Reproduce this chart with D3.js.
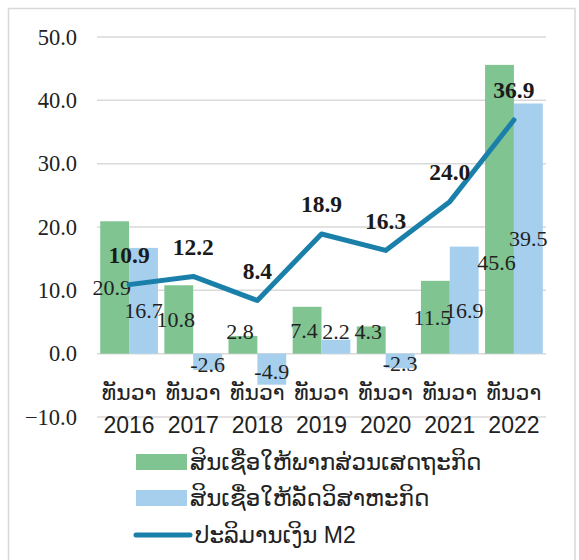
<!DOCTYPE html>
<html>
<head>
<meta charset="utf-8">
<script src="https://cdn.jsdelivr.net/npm/d3@7"></script>
<style>
  body { margin: 0; background: #fff; }
  svg { display: block; }
</style>
</head>
<body>
<div id="chart"></div>
<script>
// data
const years = ["2016", "2017", "2018", "2019", "2020", "2021", "2022"]
const monthLabel = "ທັນວາ"
const privateCredit = [20.9, 10.8, 2.8, 7.4, 4.3, 11.5, 45.6]
const soeCredit = [16.7, -2.6, -4.9, 2.2, -2.3, 16.9, 39.5]
const m2 = [10.9, 12.2, 8.4, 18.9, 16.3, 24.0, 36.9]
const yTicks = [-10, 0, 10, 20, 30, 40, 50]
const seriesNames = ["ສິນເຊື່ອໃຫ້ພາກສ່ວນເສດຖະກິດ", "ສິນເຊື່ອໃຫ້ລັດວິສາຫະກິດ", "ປະລິມານເງິນ M2"]

const width = 579, height = 560
const green = "#80c492", lightBlue = "#a6cfee", lineBlue = "#1a80a9"
const serif = "'Liberation Serif', 'Times New Roman', serif"
const sans = "'Liberation Sans', Arial, 'DejaVu Sans', sans-serif"

const svg = d3.select("#chart").append("svg").attr("width", width).attr("height", height)

// frame
svg.append("rect").attr("x", 8.5).attr("y", 8.5).attr("width", 566.5).attr("height", 600)
  .attr("fill", "none").attr("stroke", "#d9d9d9").attr("stroke-width", 1.5)

const y = d3.scaleLinear().domain([-10, 50]).range([417, 37])
const x0 = d3.scaleBand().domain(years).range([97, 546]).paddingInner(0.1).paddingOuter(0.05)
const x1 = d3.scaleBand().domain([0, 1]).range([0, x0.bandwidth()])

//BEGIN: GRID + Y AXIS
const yAxis = d3.axisLeft(y).tickValues(yTicks).tickFormat(d3.format(".1f")).tickSize(0).tickPadding(0)
const ga = svg.append("g").attr("transform", "translate(77,0)").call(yAxis)
ga.select(".domain").remove()
ga.selectAll("text").attr("font-family", serif).attr("font-size", 22.5).attr("fill", "#222")

svg.append("g").selectAll("line").data(yTicks).join("line")
  .attr("x1", 97).attr("x2", 546)
  .attr("y1", d => y(d)).attr("y2", d => y(d))
  .attr("stroke", "#d9d9d9").attr("stroke-width", 1.5)
//END: GRID

//BEGIN: BARS
const bars = years.map((yr, i) => [
  { yr, s: 0, v: privateCredit[i] },
  { yr, s: 1, v: soeCredit[i] }
])
const fills = [green, lightBlue]

const groups = svg.append("g").selectAll("g").data(bars).join("g")
  .attr("transform", d => `translate(${x0(d[0].yr)},0)`)

groups.selectAll("rect").data(d => d).join("rect")
  .attr("x", d => x1(d.s))
  .attr("width", x1.bandwidth())
  .attr("y", d => y(Math.max(0, d.v)))
  .attr("height", d => Math.abs(y(d.v) - y(0)))
  .attr("fill", d => fills[d.s])

// value labels, roughly in the middle of the bar, pushed up for short positives
// and kept below the M2 label on the tallest bar
groups.selectAll("text").data(d => d).join("text")
  .attr("x", d => x1(d.s) + x1.bandwidth() / 2 - (d.s ? 0 : 3))
  .attr("y", d => d.v > 0 ? Math.min(Math.max(y(d.v / 2), y(d.v > 40 ? 14.5 : 100)) + (d.s ? 10 : 0), y(3.5)) : y(d.v / 2) + 2)
  .attr("dy", "0.35em")
  .attr("text-anchor", "middle")
  .attr("font-family", serif).attr("font-size", 22).attr("fill", "#222")
  .text(d => d.v.toFixed(1))
//END: BARS

//BEGIN: M2 LINE
const cx = i => x0(years[i]) + x0.bandwidth() / 2
const line = d3.line().x((d, i) => cx(i)).y(d => y(d))
svg.append("path").datum(m2).attr("d", line)
  .attr("fill", "none").attr("stroke", lineBlue).attr("stroke-width", 5)
  .attr("stroke-linejoin", "round").attr("stroke-linecap", "round")

svg.append("g").selectAll("text").data(m2).join("text")
  .attr("x", (d, i) => cx(i))
  .attr("y", d => y(d) - 30)
  .attr("dy", "0.35em")
  .attr("text-anchor", "middle")
  .attr("font-family", serif).attr("font-size", 23.5).attr("font-weight", "bold").attr("fill", "#1a1a1a")
  .text(d => d.toFixed(1))
//END: M2 LINE

//BEGIN: X LABELS
const xl = svg.append("g").selectAll("g").data(years).join("g")
  .attr("transform", d => `translate(${x0(d) + x0.bandwidth() / 2},0)`)
xl.append("text").attr("y", 392).attr("dy", "0.35em").attr("text-anchor", "middle")
  .attr("font-family", sans).attr("font-size", 22).attr("fill", "#222").text(monthLabel)
xl.append("text").attr("y", 425).attr("dy", "0.35em").attr("text-anchor", "middle")
  .attr("font-family", sans).attr("font-size", 23).attr("fill", "#222").text(d => d)
//END: X LABELS

//BEGIN: LEGEND
const legend = svg.append("g").attr("transform", "translate(136,0)")
const legY = [462, 498, 535]
legend.append("rect").attr("x", 0).attr("y", legY[0] - 8).attr("width", 51).attr("height", 16).attr("fill", green)
legend.append("rect").attr("x", 0).attr("y", legY[1] - 8).attr("width", 51).attr("height", 16).attr("fill", lightBlue)
legend.append("line").attr("x1", 0).attr("x2", 54).attr("y1", legY[2]).attr("y2", legY[2])
  .attr("stroke", lineBlue).attr("stroke-width", 5).attr("stroke-linecap", "round")
legend.selectAll("text").data(seriesNames).join("text")
  .attr("x", (d, i) => i < 2 ? 54 : 59)
  .attr("y", (d, i) => legY[i])
  .attr("dy", "0.35em")
  .attr("font-family", sans).attr("font-size", 23).attr("fill", "#222")
  .text(d => d)
//END: LEGEND
</script>
</body>
</html>
